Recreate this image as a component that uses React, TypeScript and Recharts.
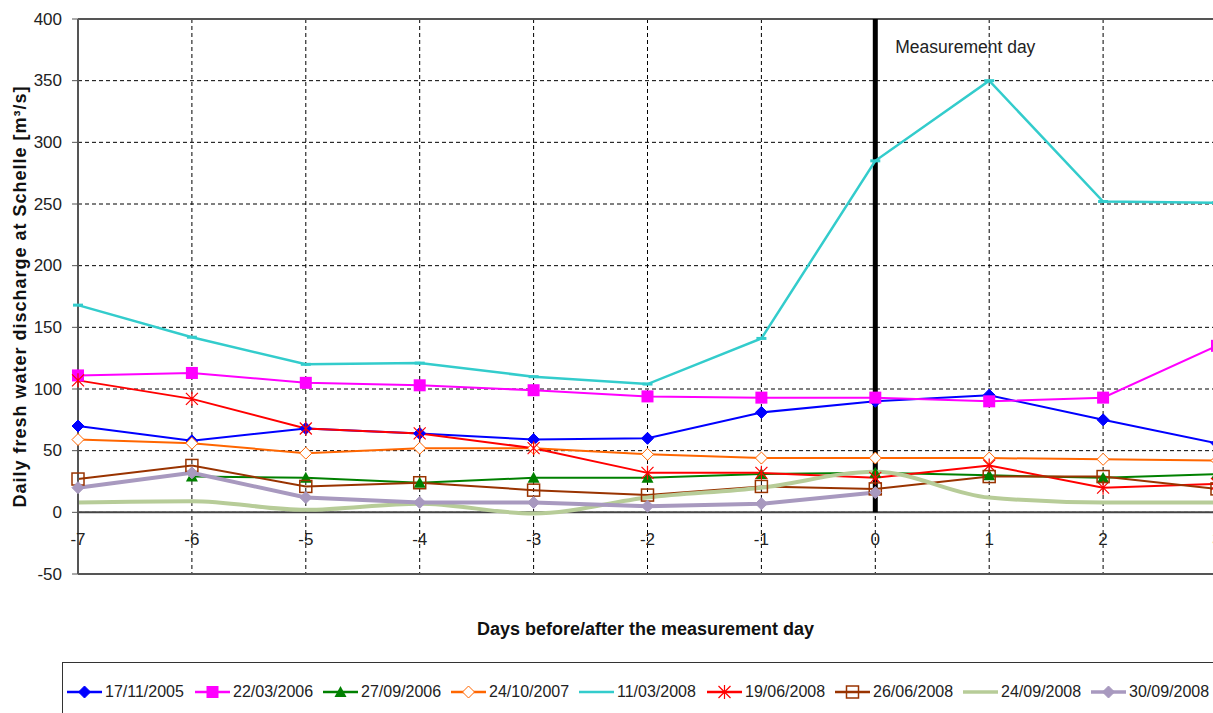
import React from "react";
import {
  LineChart,
  Line,
  XAxis,
  YAxis,
  CartesianGrid,
  ReferenceLine,
  Legend,
  Label,
} from "recharts";

const days = [-7, -6, -5, -4, -3, -2, -1, 0, 1, 2, 3];
const yTicks = [-50, 0, 50, 100, 150, 200, 250, 300, 350, 400];

const s17_11_2005 = [70, 58, 68, 64, 59, 60, 81, 90, 95, 75, 56];
const s22_03_2006 = [111, 113, 105, 103, 99, 94, 93, 93, 90, 93, 135];
const s27_09_2006 = [null, 29, 28, 24, 28, 28, 31, 32, 30, 28, 31];
const s24_10_2007 = [59, 56, 48, 52, 52, 47, 44, 44, 44, 43, 42];
const s11_03_2008 = [168, 142, 120, 121, 110, 104, 141, 285, 350, 252, 251];
const s19_06_2008 = [107, 92, 68, 64, 52, 32, 32, 28, 38, 20, 23];
const s26_06_2008 = [27, 38, 21, 24, 18, 14, 21, 19, 29, 29, 19];
const s24_09_2008 = [8, 9, 2, 7, -1, 12, 20, 33, 12, 8, 8];
const s30_09_2008 = [20, 32, 12, 8, 8, 5, 7, 16, null, null, null];

const data = days.map((d, i) => ({
  day: d,
  a: s17_11_2005[i],
  b: s22_03_2006[i],
  c: s27_09_2006[i],
  d: s24_10_2007[i],
  e: s11_03_2008[i],
  f: s19_06_2008[i],
  g: s26_06_2008[i],
  h: s24_09_2008[i],
  k: s30_09_2008[i],
}));

type MarkerKind = "diamond" | "square" | "triangle" | "odiamond" | "dash" | "star" | "osquare" | "none";

const series: { key: string; name: string; color: string; width: number; marker: MarkerKind; type?: string }[] = [
  { key: "a", name: "17/11/2005", color: "#0000FF", width: 2, marker: "diamond" },
  { key: "b", name: "22/03/2006", color: "#FF00FF", width: 2, marker: "square" },
  { key: "c", name: "27/09/2006", color: "#008000", width: 2, marker: "triangle" },
  { key: "d", name: "24/10/2007", color: "#FF6600", width: 2, marker: "odiamond" },
  { key: "e", name: "11/03/2008", color: "#33CCCC", width: 2.5, marker: "dash" },
  { key: "f", name: "19/06/2008", color: "#FF0000", width: 2, marker: "star" },
  { key: "g", name: "26/06/2008", color: "#993300", width: 2, marker: "osquare" },
  { key: "h", name: "24/09/2008", color: "#B7CC98", width: 4, marker: "none", type: "monotone" },
  { key: "k", name: "30/09/2008", color: "#A899BF", width: 4, marker: "diamond" },
];

function drawMarker(kind: MarkerKind, cx: number, cy: number, color: string, key?: any) {
  switch (kind) {
    case "diamond":
      return <path key={key} d={`M${cx},${cy - 6}L${cx + 6},${cy}L${cx},${cy + 6}L${cx - 6},${cy}Z`} fill={color} stroke={color} strokeWidth={1} />;
    case "square":
      return <rect key={key} x={cx - 6} y={cy - 6} width={12} height={12} fill={color} />;
    case "triangle":
      return <path key={key} d={`M${cx},${cy - 6}L${cx + 6},${cy + 5}L${cx - 6},${cy + 5}Z`} fill={color} />;
    case "odiamond":
      return <path key={key} d={`M${cx},${cy - 6}L${cx + 6},${cy}L${cx},${cy + 6}L${cx - 6},${cy}Z`} fill="#fff" stroke={color} strokeWidth={1} />;
    case "dash":
      return <path key={key} d={`M${cx - 5},${cy}L${cx + 5},${cy}`} stroke={color} strokeWidth={3} />;
    case "star":
      return (
        <g key={key} stroke={color} strokeWidth={1.2}>
          <path d={`M${cx - 6},${cy - 6}L${cx + 6},${cy + 6}M${cx - 6},${cy + 6}L${cx + 6},${cy - 6}M${cx},${cy - 7}L${cx},${cy + 7}`} />
        </g>
      );
    case "osquare":
      return <rect key={key} x={cx - 6} y={cy - 6} width={12} height={12} fill="none" stroke={color} strokeWidth={1.5} />;
    default:
      return <g key={key} />;
  }
}

const makeDot = (kind: MarkerKind, color: string) => (props: any) => {
  const { cx, cy, index, value } = props;
  if (cx == null || cy == null || value == null) return <g key={`n${index}`} />;
  return drawMarker(kind, cx, cy, color, `m${index}`);
};

const FONT = "'Liberation Sans', Arial, sans-serif";

const XTick = (props: any) => {
  const { x, y, payload } = props;
  return (
    <text x={x} y={y - 43} textAnchor="middle" dominantBaseline="central" fontSize={17} fontFamily={FONT} fill="#222">
      {payload.value}
    </text>
  );
};

const YTick = (props: any) => {
  const { x, y, payload } = props;
  return (
    <text x={x} y={y} textAnchor="end" dominantBaseline="central" fontSize={17} fontFamily={FONT} fill="#222">
      {payload.value}
    </text>
  );
};

const LegendBox = () => (
  <div
    style={{
      border: "1px solid #333",
      width: 1250,
      height: 70,
      boxSizing: "border-box",
      display: "flex",
      alignItems: "flex-start",
      paddingLeft: 4,
      paddingTop: 20,
      background: "#fff",
    }}
  >
    {series.map((s) => (
      <div key={s.key} style={{ display: "flex", alignItems: "center", width: 128, flex: "0 0 128px" }}>
        <svg width={35} height={16} style={{ display: "block" }}>
          <line x1={0} y1={8} x2={35} y2={8} stroke={s.color} strokeWidth={s.width > 2.5 ? 3.5 : 2.5} />
          {s.marker !== "dash" ? drawMarker(s.marker, 17.5, 8, s.color) : null}
        </svg>
        <span style={{ fontFamily: FONT, fontSize: 16, color: "#222", marginLeft: 3, whiteSpace: "nowrap" }}>{s.name}</span>
      </div>
    ))}
  </div>
);

export default function App() {
  return (
    <div style={{ position: "fixed", left: 0, top: 0, width: 1213, height: 713, overflow: "hidden", background: "#fff" }}>
      <LineChart width={1245} height={713} data={data} margin={{ top: 19, right: 28, bottom: 0, left: 0 }}>
        <CartesianGrid stroke="#000" strokeDasharray="4 3" strokeWidth={1} />
        <XAxis
          dataKey="day"
          type="number"
          domain={[-7, 3]}
          ticks={days}
          height={139}
          axisLine={false}
          tickLine={false}
          tick={<XTick />}
          interval={0}
        >
          <Label
            content={(p: any) => {
              const vb = p.viewBox;
              return (
                <text x={vb.x + vb.width / 2 - 2} y={vb.y + 55} textAnchor="middle" dominantBaseline="central" fontSize={18} fontWeight="bold" fontFamily={FONT} fill="#111">
                  Days before/after the measurement day
                </text>
              );
            }}
          />
        </XAxis>
        <YAxis
          type="number"
          domain={[-50, 400]}
          ticks={yTicks}
          width={78}
          interval={0}
          stroke="#555"
          tickSize={6}
          tickMargin={10}
          tick={<YTick />}
          axisLine={{ stroke: "#555", strokeWidth: 2 }}
          tickLine={{ stroke: "#555" }}
        >
          <Label
            content={(p: any) => {
              const vb = p.viewBox;
              const cx = vb.x + 20;
              const cy = vb.y + vb.height / 2;
              return (
                <text x={cx} y={cy} transform={`rotate(-90, ${cx}, ${cy})`} textAnchor="middle" dominantBaseline="central" fontSize={18} letterSpacing={1} fontWeight="bold" fontFamily={FONT} fill="#111">
                  Daily fresh water discharge at Schelle [m³/s]
                </text>
              );
            }}
          />
        </YAxis>
        <ReferenceLine y={400} stroke="#555" strokeWidth={2} />
        <ReferenceLine y={-50} stroke="#555" strokeWidth={2} />
        <ReferenceLine y={0} stroke="#444" strokeWidth={2} />
        <ReferenceLine
          segment={[{ x: 0, y: 0 }, { x: 0, y: 400 }]}
          stroke="#000"
          strokeWidth={5}
          label={(p: any) => {
            const vb = p.viewBox || {};
            const x = (vb.x ?? 0) + 20;
            const y = Math.min(vb.y ?? 0, (vb.y ?? 0) + (vb.height ?? 0));
            return (
              <text x={x} y={y + 28} textAnchor="start" dominantBaseline="central" fontSize={17.5} fontFamily={FONT} fill="#222">
                Measurement day
              </text>
            );
          }}
        />
        {series.map((s) => (
          <Line
            key={s.key}
            dataKey={s.key}
            name={s.name}
            type={(s.type as any) || "linear"}
            stroke={s.color}
            strokeWidth={s.width}
            dot={s.marker === "none" ? false : makeDot(s.marker, s.color)}
            activeDot={false}
            isAnimationActive={false}
            connectNulls={false}
          />
        ))}
        <Legend
          layout="horizontal"
          verticalAlign="middle"
          align="center"
          wrapperStyle={{ position: "absolute", top: 662, left: 62, width: 1250 }}
          content={() => <LegendBox />}
        />
      </LineChart>
    </div>
  );
}
